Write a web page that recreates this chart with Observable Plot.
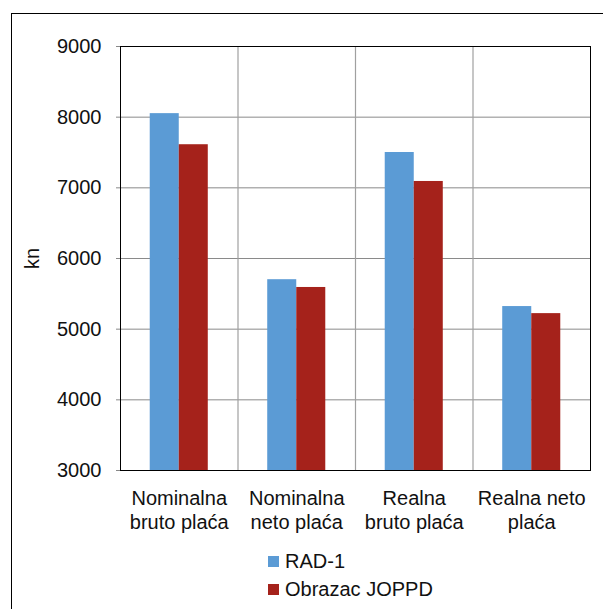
<!DOCTYPE html>
<html>
<head>
<meta charset="utf-8">
<script src="https://cdn.jsdelivr.net/npm/d3@7"></script>
<script src="https://cdn.jsdelivr.net/npm/@observablehq/plot@0.6"></script>
<style>
  html, body { margin: 0; padding: 0; width: 603px; height: 609px; overflow: hidden; background: #fff; font-family: "Liberation Sans", Arial, sans-serif; }
  #border { position: absolute; left: 11px; top: 13px; width: 700px; height: 700px; border: 1px solid #000; box-sizing: border-box; }
  #chart { position: absolute; left: 0; top: 0; }
  #legend { position: absolute; left: 268px; top: 547px; font-size: 20px; color: #111; line-height: 28px; }
  #legend .item { display: flex; align-items: center; white-space: nowrap; }
  #legend .sw { width: 11px; height: 11px; margin-right: 6px; display: inline-block; }
</style>
</head>
<body>
<div id="border"></div>
<div id="chart"></div>
<div id="legend"></div>
<script>
const categories = ["Nominalna\nbruto plaća", "Nominalna\nneto plaća", "Realna\nbruto plaća", "Realna neto\nplaća"];
const seriesNames = ["RAD-1", "Obrazac JOPPD"];
const rad1 = [8050, 5700, 7500, 5320];
const joppd = [7610, 5590, 7090, 5220];
const seriesColors = ["#5B9BD5", "#A5221B"];
const yTicks = [3000, 4000, 5000, 6000, 7000, 8000, 9000];
const yLabel = "kn";

const barWidth = 0.247; // fraction of a category band per bar
const data = [];
categories.forEach((c, i) => {
  data.push({i, k: 0, series: seriesNames[0], value: rad1[i]});
  data.push({i, k: 1, series: seriesNames[1], value: joppd[i]});
});
const idx = d3.range(categories.length);
const boundaries = d3.range(1, categories.length).map(i => i - 0.5);

const chart = Plot.plot({
  width: 603,
  height: 540,
  marginLeft: 120,
  marginRight: 13,
  marginTop: 46,
  marginBottom: 70,
  style: {fontFamily: '"Liberation Sans", Arial, sans-serif', fontSize: "20px", color: "#111", background: "transparent", overflow: "visible"},
  x: {domain: [-0.5, categories.length - 0.5], axis: null},
  y: {domain: [yTicks[0], yTicks[yTicks.length - 1]], axis: null},
  color: {domain: seriesNames, range: seriesColors},
  marks: [
    Plot.gridY(yTicks, {stroke: "#8a8a8a", strokeOpacity: 1, strokeWidth: 1}),
    Plot.ruleX(boundaries, {stroke: "#a0a0a0", strokeWidth: 1.2}),
    Plot.rectY(data, {
      x1: d => d.i + (d.k - 1) * barWidth,
      x2: d => d.i + d.k * barWidth,
      y: "value",
      fill: "series",
      clip: true
    }),
    Plot.frame({stroke: "#000", strokeWidth: 1}),
    Plot.axisY(yTicks, {
      tickSize: 4, tickPadding: 15, fontSize: 20, stroke: "#888",
      tickFormat: d => String(d),
      label: yLabel, labelAnchor: "center", labelArrow: "none", labelOffset: 96
    }),
    Plot.axisX(idx, {
      tickFormat: i => categories[i], tickSize: 0, tickPadding: 17,
      fontSize: 20, lineHeight: 1.2, label: null
    })
  ]
});
document.getElementById("chart").appendChild(chart);

const legend = document.getElementById("legend");
seriesNames.forEach((s, i) => {
  const row = document.createElement("div");
  row.className = "item";
  const sw = document.createElement("span");
  sw.className = "sw";
  sw.style.background = seriesColors[i];
  row.appendChild(sw);
  row.appendChild(document.createTextNode(s));
  legend.appendChild(row);
});
</script>
</body>
</html>
